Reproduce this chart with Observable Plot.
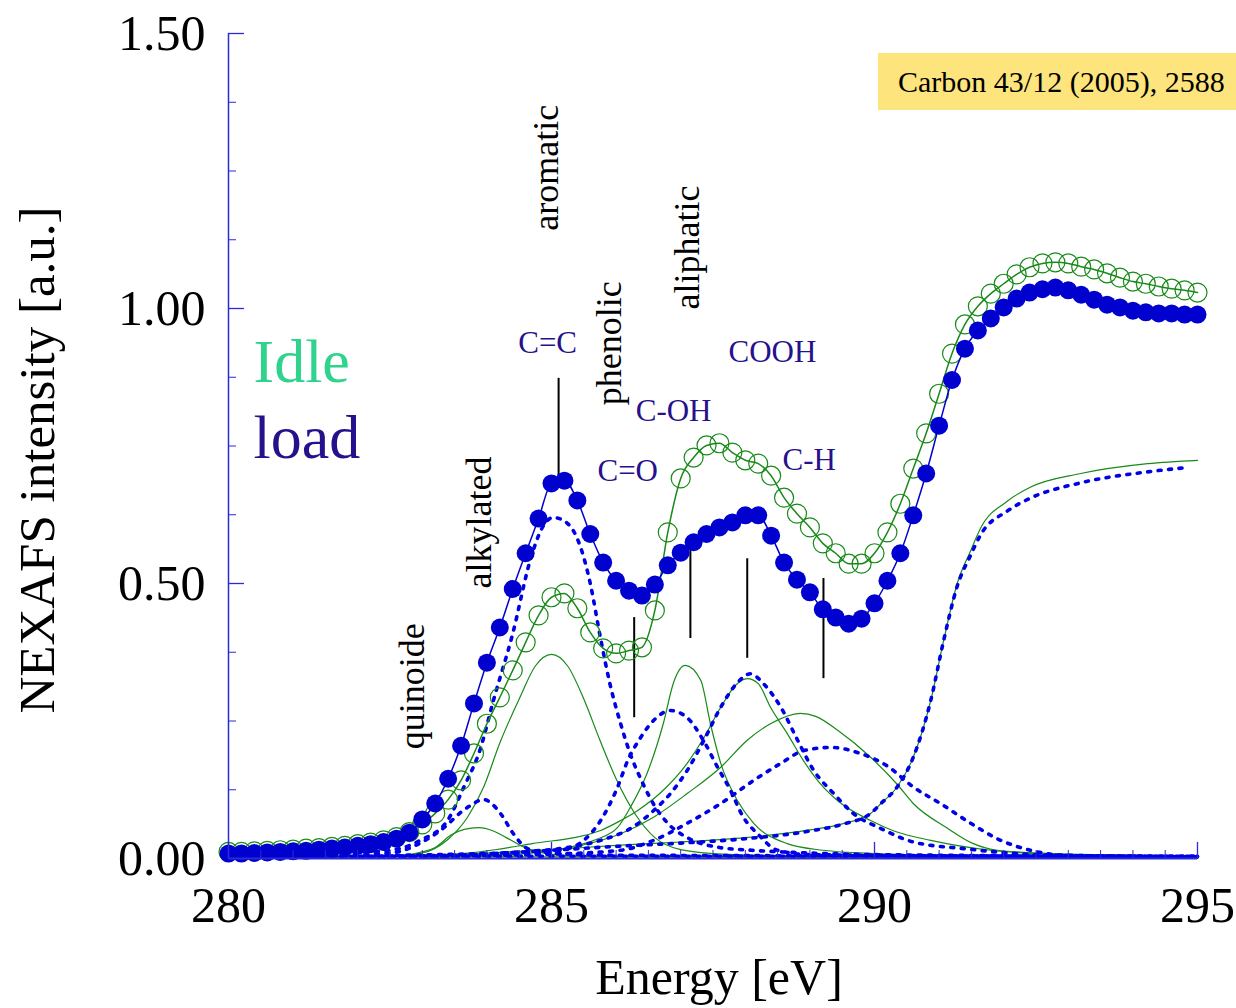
<!DOCTYPE html>
<html><head><meta charset="utf-8">
<script src="https://cdn.jsdelivr.net/npm/d3@7"></script>
<script src="https://cdn.jsdelivr.net/npm/@observablehq/plot@0.6"></script>
<style>
html,body{margin:0;padding:0;background:#fff;overflow:hidden;}
#wrap{position:relative;width:1236px;height:1008px;overflow:hidden;}
#ref{position:absolute;left:878px;top:53px;width:358px;height:57px;background:#fde47c;font-family:"Liberation Serif",serif;font-size:30px;line-height:57px;padding-left:20px;white-space:nowrap;overflow:hidden;color:#000;box-sizing:border-box;}
</style></head><body><div id="wrap"><div id="ref">Carbon 43/12 (2005), 2588</div></div>
<script>
// ---- measured spectra (energy grid, eV) ----
const energy = [280.0,280.2,280.4,280.6,280.8,281.0,281.2,281.4,281.6,281.8,282.0,282.2,282.4,282.6,282.8,283.0,283.2,283.4,283.6,283.8,284.0,284.2,284.4,284.6,284.8,285.0,285.2,285.4,285.6,285.8,286.0,286.2,286.4,286.6,286.8,287.0,287.2,287.4,287.6,287.8,288.0,288.2,288.4,288.6,288.8,289.0,289.2,289.4,289.6,289.8,290.0,290.2,290.4,290.6,290.8,291.0,291.2,291.4,291.6,291.8,292.0,292.2,292.4,292.6,292.8,293.0,293.2,293.4,293.6,293.8,294.0,294.2,294.4,294.6,294.8,295.0];
const loadValues = [0.009,0.009,0.010,0.011,0.012,0.013,0.014,0.016,0.018,0.020,0.023,0.026,0.030,0.036,0.047,0.071,0.100,0.145,0.205,0.282,0.356,0.420,0.490,0.555,0.618,0.682,0.687,0.651,0.590,0.538,0.505,0.487,0.478,0.498,0.533,0.556,0.575,0.590,0.602,0.611,0.624,0.624,0.587,0.538,0.507,0.484,0.453,0.438,0.427,0.436,0.464,0.505,0.555,0.624,0.700,0.787,0.870,0.927,0.960,0.982,1.002,1.018,1.029,1.035,1.038,1.033,1.025,1.016,1.007,1.002,0.996,0.993,0.991,0.991,0.989,0.989];
const idleValues = [0.012,0.012,0.013,0.014,0.015,0.016,0.018,0.019,0.021,0.023,0.026,0.029,0.033,0.039,0.048,0.062,0.082,0.107,0.142,0.191,0.245,0.293,0.342,0.393,0.442,0.475,0.482,0.455,0.411,0.382,0.373,0.378,0.384,0.451,0.593,0.691,0.729,0.751,0.755,0.738,0.724,0.718,0.696,0.656,0.627,0.602,0.573,0.555,0.536,0.536,0.555,0.593,0.645,0.709,0.773,0.845,0.918,0.971,1.004,1.027,1.045,1.062,1.075,1.082,1.084,1.082,1.076,1.071,1.064,1.056,1.049,1.045,1.040,1.036,1.033,1.029];

// ---- fit components, idle (green solid) [energy, intensity] ----
const idleQuinoide = [[280,0.001],[282.5,0.004],[283.0,0.012],[283.2,0.02],[283.45,0.043],[283.65,0.053],[283.87,0.056],[284.1,0.05],[284.3,0.038],[284.55,0.022],[284.8,0.012],[285.1,0.006],[286,0.003],[295,0.001]];
const idleCC = [[280,0.001],[282.5,0.004],[283.0,0.01],[283.4,0.035],[283.7,0.075],[283.95,0.13],[284.2,0.21],[284.5,0.29],[284.75,0.35],[285.0,0.371],[285.25,0.35],[285.5,0.29],[285.75,0.215],[286.0,0.145],[286.3,0.08],[286.6,0.038],[287.0,0.016],[287.5,0.009],[288.5,0.005],[290,0.003],[295,0.001]];
const idleAliph = [[283,0.002],[284.5,0.008],[285.25,0.02],[285.7,0.035],[286.02,0.056],[286.22,0.093],[286.48,0.155],[286.73,0.245],[286.89,0.32],[287.07,0.351],[287.31,0.324],[287.46,0.245],[287.62,0.173],[287.88,0.105],[288.13,0.064],[288.65,0.027],[289.2,0.015],[290,0.009],[292,0.004],[295,0.002]];
const idleCOOH = [[282,0.004],[283.5,0.008],[284.7,0.027],[285.76,0.051],[286.07,0.069],[286.33,0.087],[286.73,0.124],[287.1,0.173],[287.36,0.22],[287.62,0.275],[287.85,0.315],[288.03,0.327],[288.2,0.318],[288.39,0.275],[288.65,0.227],[288.9,0.178],[289.16,0.136],[289.43,0.105],[289.94,0.069],[290.3,0.05],[290.87,0.033],[291.8,0.015],[293,0.007],[295,0.004]];
const idleCH = [[283,0.004],[284.5,0.01],[285.5,0.025],[286.07,0.045],[286.58,0.075],[287.1,0.118],[287.62,0.166],[288.03,0.215],[288.39,0.245],[288.85,0.264],[289.1,0.258],[289.43,0.233],[289.94,0.184],[290.35,0.135],[290.6,0.1],[291.13,0.055],[291.53,0.027],[291.9,0.015],[293,0.008],[295,0.005]];
const idleStep = [[280,0.002],[283,0.006],[284,0.01],[285,0.016],[286,0.024],[287,0.03],[288,0.038],[289,0.052],[289.5,0.063],[289.94,0.082],[290.1,0.1],[290.35,0.13],[290.6,0.184],[290.87,0.287],[291.07,0.396],[291.28,0.5],[291.49,0.56],[291.64,0.6],[292.06,0.65],[292.41,0.675],[293.19,0.7],[294.23,0.718],[295,0.724]];
const idleBase = [[282.3,0.003],[295,0.003]];

// ---- fit components, load (blue dotted) ----
const loadQuinoide = [[280,0.002],[282.5,0.01],[283.0,0.03],[283.28,0.051],[283.7,0.093],[283.95,0.107],[284.21,0.082],[284.41,0.045],[284.63,0.018],[285,0.01],[286,0.006],[295,0.004]];
const loadCC = [[280,0.002],[282.5,0.015],[282.97,0.033],[283.39,0.069],[283.64,0.129],[283.9,0.2],[284.1,0.287],[284.4,0.409],[284.67,0.542],[284.85,0.6],[285.03,0.62],[285.25,0.609],[285.45,0.566],[285.6,0.5],[285.76,0.4],[285.9,0.32],[286.07,0.245],[286.22,0.19],[286.4,0.14],[286.6,0.095],[286.8,0.064],[287.1,0.038],[287.6,0.02],[288.1,0.015],[289,0.01],[290,0.007],[295,0.004]];
const loadCO = [[282,0.003],[284.5,0.008],[285.14,0.015],[285.5,0.033],[285.76,0.069],[286.02,0.129],[286.18,0.178],[286.38,0.22],[286.58,0.251],[286.84,0.269],[287.1,0.256],[287.35,0.215],[287.57,0.166],[287.77,0.124],[287.97,0.075],[288.19,0.045],[288.5,0.015],[289,0.007],[295,0.003]];
const loadCOOH = [[282,0.004],[283.5,0.006],[284.5,0.012],[285.25,0.02],[285.76,0.033],[286.27,0.058],[286.58,0.087],[286.84,0.118],[287.1,0.16],[287.36,0.215],[287.62,0.275],[287.88,0.32],[288.08,0.336],[288.28,0.318],[288.55,0.275],[288.81,0.215],[289.06,0.16],[289.37,0.118],[289.67,0.082],[290.09,0.055],[290.6,0.03],[291.38,0.018],[292.7,0.006],[295,0.003]];
const loadCH = [[282,0.003],[285,0.008],[286.07,0.015],[286.58,0.033],[287.1,0.064],[287.62,0.1],[288.13,0.142],[288.55,0.173],[288.9,0.196],[289.32,0.202],[289.78,0.191],[290.2,0.168],[290.6,0.13],[291.02,0.1],[291.49,0.064],[291.9,0.036],[292.41,0.015],[292.93,0.006],[295,0.003]];
const loadStep = [[280,0.003],[284,0.009],[285,0.015],[286,0.022],[287,0.028],[288,0.036],[289,0.05],[289.5,0.062],[289.94,0.082],[290.1,0.1],[290.35,0.13],[290.6,0.184],[290.87,0.287],[291.07,0.396],[291.28,0.495],[291.49,0.552],[291.64,0.588],[292.06,0.632],[292.41,0.655],[293.19,0.683],[294.23,0.703],[294.85,0.711]];
const loadBase = [[281.4,0.004],[295,0.004]];

// ---- peak markers [energy, y1, y2] ----
const markers = [[285.11,0.687,0.873],[286.28,0.256,0.438],[287.15,0.40,0.584],[288.03,0.364,0.545],[289.21,0.327,0.509]];
// ---- labels ----
const bondLabels = ["C=C","C-OH","C=O","COOH","C-H"];
const bondPos = [[284.94,0.938],[286.89,0.813],[286.18,0.704],[288.42,0.92],[288.99,0.725]];
const groupLabels = ["aromatic","aliphatic","phenolic","alkylated","quinoide"];
const groupPos = [[284.915,1.256],[287.11,1.111],[285.89,0.937],[283.89,0.611],[282.85,0.313]];
const legendLabels = ["Idle","load"];
const legendPos = [[280.387,0.902],[280.387,0.764]];

// ---- axis ticks ----
const xMajor = [280,285,290,295];
const xMinor = [280.5,281,281.5,282,282.5,283,283.5,284,284.5,285.5,286,286.5,287,287.5,288,288.5,289,289.5,290.5,291,291.5,292,292.5,293,293.5,294,294.5];
const yMajor = [0,0.5,1.0,1.5];
const yMinor = [0.125,0.25,0.375,0.625,0.75,0.875,1.125,1.25,1.375];

const green = "#178a17", blue = "#0000cf", dotBlue = "#0000e6", axisBlue = "#2a2ad8", indigo = "#26108c";
const rows = p => p.map(([e, v]) => ({e, v}));
const spectrum = vals => energy.map((e, i) => ({e, v: vals[i]}));
const greenLine = p => Plot.line(rows(p), {x: "e", y: "v", stroke: green, strokeWidth: 1.2, curve: "monotone-x"});
const blueDots = p => Plot.line(rows(p), {x: "e", y: "v", stroke: dotBlue, strokeWidth: 3.6, strokeDasharray: "3,7.5", strokeLinecap: "round", curve: "monotone-x"});

const W = 1236, H = 1008, mL = 228, mR = 39, mT = 33, mB = 150;
const innerH = H - mT - mB, innerW = W - mL - mR;
const serif = "Liberation Serif, Times New Roman, serif";

const chart = Plot.plot({
  width: W, height: H,
  marginLeft: mL, marginRight: mR, marginTop: mT, marginBottom: mB,
  style: {fontFamily: serif, fontSize: "50px", background: "transparent", overflow: "visible", color: "#000"},
  x: {domain: [280, 295], ticks: xMajor, tickSize: 0, tickPadding: 28, label: null, tickFormat: d => String(d)},
  y: {domain: [0, 1.5], ticks: yMajor, tickSize: 0, tickPadding: 23, label: null, tickFormat: d => d.toFixed(2)},
  marks: [
    // components
    greenLine(idleBase), greenLine(idleQuinoide), greenLine(idleCC), greenLine(idleAliph), greenLine(idleCOOH), greenLine(idleCH), greenLine(idleStep),
    blueDots(loadBase), blueDots(loadQuinoide), blueDots(loadCC), blueDots(loadCO), blueDots(loadCOOH), blueDots(loadCH), blueDots(loadStep),
    // peak markers
    Plot.ruleX(markers, {x: d => d[0], y1: d => d[1], y2: d => d[2], stroke: "#000", strokeWidth: 2}),
    // idle spectrum
    Plot.line(spectrum(idleValues), {x: "e", y: "v", stroke: green, strokeWidth: 1.5, curve: "monotone-x"}),
    Plot.dot(spectrum(idleValues), {x: "e", y: "v", r: 9.5, fill: "none", stroke: green, strokeWidth: 1.2}),
    // load spectrum
    Plot.line(spectrum(loadValues), {x: "e", y: "v", stroke: blue, strokeWidth: 1.5, curve: "monotone-x"}),
    Plot.dot(spectrum(loadValues), {x: "e", y: "v", r: 9, fill: blue, stroke: "none"}),
    // axes lines and inward ticks
    Plot.ruleX([280], {stroke: axisBlue, strokeWidth: 1.5}),
    Plot.ruleY([0], {stroke: axisBlue, strokeWidth: 2}),
    Plot.ruleX(xMajor, {stroke: axisBlue, strokeWidth: 1.3, insetTop: innerH - 16}),
    Plot.ruleX(xMinor, {stroke: axisBlue, strokeWidth: 1, insetTop: innerH - 8}),
    Plot.ruleY(yMajor, {stroke: axisBlue, strokeWidth: 1.3, insetRight: innerW - 16}),
    Plot.ruleY(yMinor, {stroke: axisBlue, strokeWidth: 1, insetRight: innerW - 8}),
    // labels
    Plot.text(bondLabels, {x: (d, i) => bondPos[i][0], y: (d, i) => bondPos[i][1], text: d => d, fill: indigo, fontSize: 31, textAnchor: "middle", lineAnchor: "middle"}),
    Plot.text(groupLabels, {x: (d, i) => groupPos[i][0], y: (d, i) => groupPos[i][1], text: d => d, fill: "#000", fontSize: 36, rotate: -90, textAnchor: "middle", lineAnchor: "middle"}),
    Plot.text(legendLabels, {x: (d, i) => legendPos[i][0], y: (d, i) => legendPos[i][1], text: d => d, fill: (d, i) => i === 0 ? "#2fd38e" : indigo, fontSize: 62, textAnchor: "start", lineAnchor: "middle"}),
    Plot.text(["NEXAFS intensity [a.u.]"], {frameAnchor: "left", dx: -191, dy: 14, rotate: -90, text: d => d, fill: "#000", fontSize: 51, textAnchor: "middle", lineAnchor: "middle"}),
    Plot.text(["Energy [eV]"], {frameAnchor: "bottom", dx: 6, dy: 119, text: d => d, fill: "#000", fontSize: 50, textAnchor: "middle", lineAnchor: "middle"})
  ]
});
document.getElementById("wrap").prepend(chart);
</script></body></html>
